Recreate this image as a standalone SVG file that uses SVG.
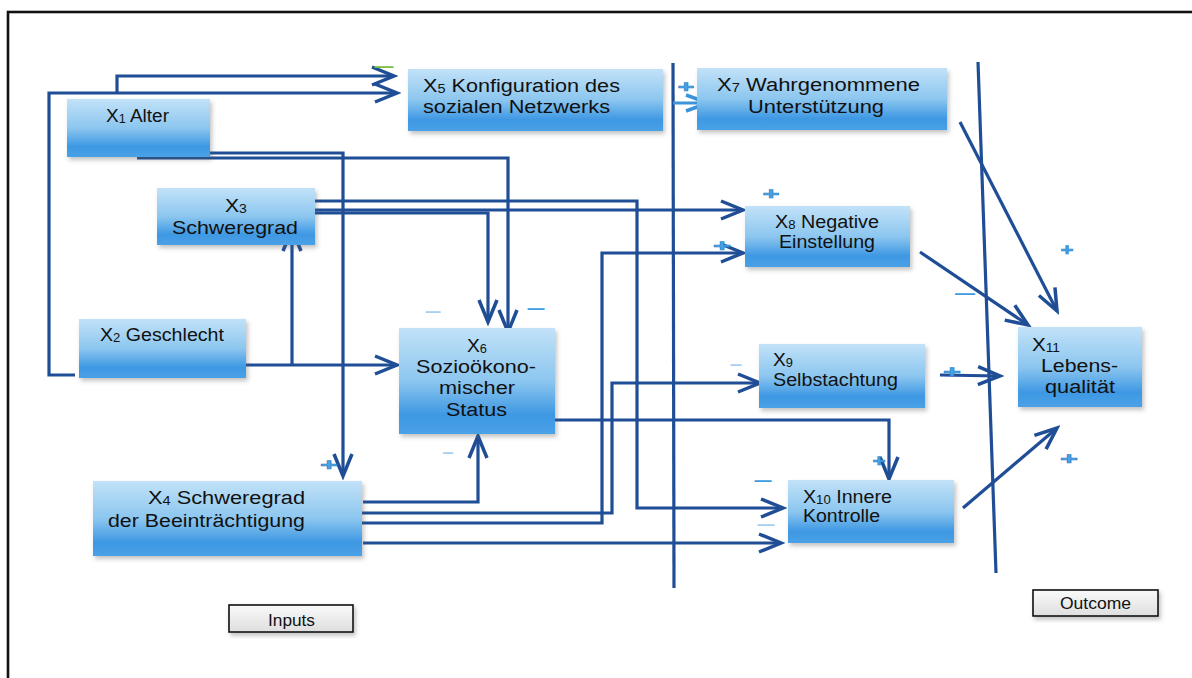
<svg xmlns="http://www.w3.org/2000/svg" width="1192" height="678" viewBox="0 0 1192 678">
  <defs>
    <linearGradient id="boxFill" x1="0" y1="0" x2="0" y2="1">
      <stop offset="0" stop-color="#c2e2f8"/>
      <stop offset="0.5" stop-color="#8cc6ef"/>
      <stop offset="0.82" stop-color="#3e98e3"/>
      <stop offset="1" stop-color="#4aa1e6"/>
    </linearGradient>
    <linearGradient id="tagFill" x1="0" y1="0" x2="0" y2="1">
      <stop offset="0" stop-color="#fafafa"/>
      <stop offset="1" stop-color="#dedede"/>
    </linearGradient>
    <filter id="shadow" x="-10%" y="-10%" width="125%" height="135%">
      <feDropShadow dx="2" dy="3" stdDeviation="2" flood-color="#555" flood-opacity="0.35"/>
    </filter>
    <marker id="arrow" viewBox="-26 -12 30 24" refX="0" refY="0" markerWidth="30" markerHeight="24" markerUnits="userSpaceOnUse" orient="auto">
      <path d="M-22,-9 L0,0 L-22,9" fill="none" stroke="#1f4e96" stroke-width="3.5"/>
    </marker>
    <marker id="arrowLight" viewBox="-26 -12 30 24" refX="0" refY="0" markerWidth="30" markerHeight="24" markerUnits="userSpaceOnUse" orient="auto">
      <path d="M-22,-8 L0,0 L-22,8" fill="none" stroke="#3b93dc" stroke-width="3.5"/>
    </marker>
  </defs>
  <style>
    .box { fill: url(#boxFill); filter: url(#shadow); }
    .tag { fill: url(#tagFill); stroke: #111; stroke-width: 1.6; filter: url(#shadow); }
    .lbl { font-family: "Liberation Sans", Arial, sans-serif; font-size: 18px; fill: #111; }
    .tagtxt { font-family: "Liberation Sans", Arial, sans-serif; font-size: 16px; fill: #111; }
    .sub { font-size: 12px; }
    .wire { fill: none; stroke: #1f4e96; stroke-width: 3.2; }
    .wire.to { marker-end: url(#arrow); }
    .wire.light { stroke: #3b93dc; marker-end: url(#arrowLight); }
    .divider { fill: none; stroke: #1f4e96; stroke-width: 3.2; }
    .plus { font-family: "Liberation Sans", Arial, sans-serif; font-weight: bold; font-size: 17px; fill: #4aa3e3; stroke: #2f86cf; stroke-width: 0.6; text-anchor: middle; }
    .minus { font-family: "Liberation Sans", Arial, sans-serif; font-weight: bold; font-size: 18px; fill: #3d9be0; text-anchor: middle; }
    .minus.pale { fill: #a6cff0; }
    .minus.green { fill: #79c043; }
  </style>

  <rect width="1192" height="678" fill="#ffffff"/>
  <!-- outer frame -->
  <rect x="8" y="12" width="1200" height="700" fill="none" stroke="#111" stroke-width="2.6"/>

  <!-- section dividers -->
  <g id="dividers">
    <path class="divider" d="M673,63 L674,588"/>
    <path class="divider" d="M978,62 L996,573"/>
  </g>

  <!-- connectors -->
  <g id="connectors">
    <path class="wire to" d="M75,375 H49 V93 H397"/>
    <path class="wire to" d="M117,93 V76 H394"/>
    <path class="wire to" d="M97,147 V153 H343 V476"/>
    <path class="wire to" d="M137,158 H508 V332"/>
    <path class="wire to" d="M315,201 H637 V508 H783"/>
    <path class="wire to" d="M313,210 H743"/>
    <path class="wire to" d="M312,213 H488 V322"/>
    <path class="wire to" d="M246,365 H397"/>
    <path class="wire to" d="M292,365 V229"/>
    <path class="wire to" d="M363,502 H478 V436"/>
    <path class="wire to" d="M360,513 H612 V383 H760"/>
    <path class="wire to" d="M348,523 H602 V253 H743"/>
    <path class="wire to" d="M363,543 H781"/>
    <path class="wire to" d="M553,420 H889 V479"/>
    <path class="wire light" d="M673,103 H708"/>
    <path class="wire to" d="M960,122 L1057,311"/>
    <path class="wire to" d="M920,252 L1028,325"/>
    <path class="wire to" d="M940,375 L1000,376"/>
    <path class="wire to" d="M963,508 L1057,428"/>
  </g>

  <!-- nodes -->
  <g id="x1">
    <rect class="box" x="67" y="99" width="143" height="58"/>
    <text class="lbl" x="106" y="122" textLength="63" lengthAdjust="spacingAndGlyphs">X<tspan class="sub" dy="1">1</tspan><tspan dy="-1"> Alter</tspan></text>
  </g>
  <g id="x3">
    <rect class="box" x="157" y="188" width="158" height="57"/>
    <text class="lbl" x="225" y="212" textLength="22" lengthAdjust="spacingAndGlyphs">X<tspan class="sub" dy="1">3</tspan></text>
    <text class="lbl" x="172" y="234" textLength="126" lengthAdjust="spacingAndGlyphs">Schweregrad</text>
  </g>
  <g id="x5">
    <rect class="box" x="408" y="69" width="255" height="62"/>
    <text class="lbl" x="423" y="92" textLength="197" lengthAdjust="spacingAndGlyphs">X<tspan class="sub" dy="1">5</tspan><tspan dy="-1"> Konfiguration des</tspan></text>
    <text class="lbl" x="423" y="113" textLength="187" lengthAdjust="spacingAndGlyphs">sozialen Netzwerks</text>
  </g>
  <g id="x7">
    <rect class="box" x="697" y="68" width="250" height="62"/>
    <text class="lbl" x="717" y="91" textLength="203" lengthAdjust="spacingAndGlyphs">X<tspan class="sub" dy="1">7</tspan><tspan dy="-1"> Wahrgenommene</tspan></text>
    <text class="lbl" x="748" y="113" textLength="136" lengthAdjust="spacingAndGlyphs">Unterstützung</text>
  </g>
  <g id="x8">
    <rect class="box" x="745" y="206" width="165" height="61"/>
    <text class="lbl" x="775" y="228" textLength="104" lengthAdjust="spacingAndGlyphs">X<tspan class="sub" dy="1">8</tspan><tspan dy="-1"> Negative</tspan></text>
    <text class="lbl" x="779" y="248" textLength="96" lengthAdjust="spacingAndGlyphs">Einstellung</text>
  </g>
  <g id="x2">
    <rect class="box" x="79" y="319" width="167" height="59"/>
    <text class="lbl" x="100" y="341" textLength="124" lengthAdjust="spacingAndGlyphs">X<tspan class="sub" dy="1">2</tspan><tspan dy="-1"> Geschlecht</tspan></text>
  </g>
  <g id="x6">
    <rect class="box" x="399" y="328" width="156" height="106"/>
    <text class="lbl" x="467" y="352" textLength="20" lengthAdjust="spacingAndGlyphs">X<tspan class="sub" dy="1">6</tspan></text>
    <text class="lbl" x="416" y="373" textLength="120" lengthAdjust="spacingAndGlyphs">Sozioökono-</text>
    <text class="lbl" x="439" y="394" textLength="76" lengthAdjust="spacingAndGlyphs">mischer</text>
    <text class="lbl" x="446" y="416" textLength="61" lengthAdjust="spacingAndGlyphs">Status</text>
  </g>
  <g id="x9">
    <rect class="box" x="759" y="344" width="166" height="64"/>
    <text class="lbl" x="773" y="366" textLength="20" lengthAdjust="spacingAndGlyphs">X<tspan class="sub" dy="1">9</tspan></text>
    <text class="lbl" x="773" y="386" textLength="125" lengthAdjust="spacingAndGlyphs">Selbstachtung</text>
  </g>
  <g id="x11">
    <rect class="box" x="1018" y="327" width="124" height="80"/>
    <text class="lbl" x="1032" y="351" textLength="28" lengthAdjust="spacingAndGlyphs">X<tspan class="sub" dy="1">11</tspan></text>
    <text class="lbl" x="1041" y="372" textLength="77" lengthAdjust="spacingAndGlyphs">Lebens-</text>
    <text class="lbl" x="1045" y="393" textLength="70" lengthAdjust="spacingAndGlyphs">qualität</text>
  </g>
  <g id="x10">
    <rect class="box" x="788" y="480" width="166" height="63"/>
    <text class="lbl" x="803" y="503" textLength="89" lengthAdjust="spacingAndGlyphs">X<tspan class="sub" dy="1">10</tspan><tspan dy="-1"> Innere</tspan></text>
    <text class="lbl" x="803" y="522" textLength="77" lengthAdjust="spacingAndGlyphs">Kontrolle</text>
  </g>
  <g id="x4">
    <rect class="box" x="93" y="481" width="269" height="75"/>
    <text class="lbl" x="148" y="504" textLength="157" lengthAdjust="spacingAndGlyphs">X<tspan class="sub" dy="1">4</tspan><tspan dy="-1"> Schweregrad</tspan></text>
    <text class="lbl" x="108" y="527" textLength="197" lengthAdjust="spacingAndGlyphs">der Beeinträchtigung</text>
  </g>
  <g id="inputs">
    <rect class="tag" x="229" y="605" width="124" height="27"/>
    <text class="tagtxt" x="268" y="626" textLength="47" lengthAdjust="spacingAndGlyphs">Inputs</text>
  </g>
  <g id="outcome">
    <rect class="tag" x="1033" y="590" width="125" height="26"/>
    <text class="tagtxt" x="1060" y="609" textLength="71" lengthAdjust="spacingAndGlyphs">Outcome</text>
  </g>

  <!-- effect signs -->
  <g id="signs">
    <text class="minus green" x="384" y="72" textLength="19" lengthAdjust="spacingAndGlyphs">—</text>
    <text class="plus" x="686" y="92" textLength="17" lengthAdjust="spacingAndGlyphs">+</text>
    <text class="plus" x="771" y="199" textLength="17" lengthAdjust="spacingAndGlyphs">+</text>
    <text class="plus" x="722" y="251" textLength="18" lengthAdjust="spacingAndGlyphs">+</text>
    <text class="plus" x="1067" y="255" textLength="13" lengthAdjust="spacingAndGlyphs">+</text>
    <text class="minus" x="965" y="299" textLength="20" lengthAdjust="spacingAndGlyphs">—</text>
    <text class="minus pale" x="433" y="317" textLength="15" lengthAdjust="spacingAndGlyphs">—</text>
    <text class="minus" x="536" y="314" textLength="17" lengthAdjust="spacingAndGlyphs">—</text>
    <text class="minus pale" x="736" y="370" textLength="11" lengthAdjust="spacingAndGlyphs">—</text>
    <text class="plus" x="952" y="377" textLength="18" lengthAdjust="spacingAndGlyphs">+</text>
    <text class="minus pale" x="448" y="458" textLength="10" lengthAdjust="spacingAndGlyphs">—</text>
    <text class="plus" x="879" y="466" textLength="13" lengthAdjust="spacingAndGlyphs">+</text>
    <text class="plus" x="1069" y="464" textLength="18" lengthAdjust="spacingAndGlyphs">+</text>
    <text class="plus" x="329" y="470" textLength="18" lengthAdjust="spacingAndGlyphs">+</text>
    <text class="minus" x="763" y="486" textLength="17" lengthAdjust="spacingAndGlyphs">—</text>
    <text class="minus pale" x="766" y="530" textLength="17" lengthAdjust="spacingAndGlyphs">—</text>
  </g>
</svg>
